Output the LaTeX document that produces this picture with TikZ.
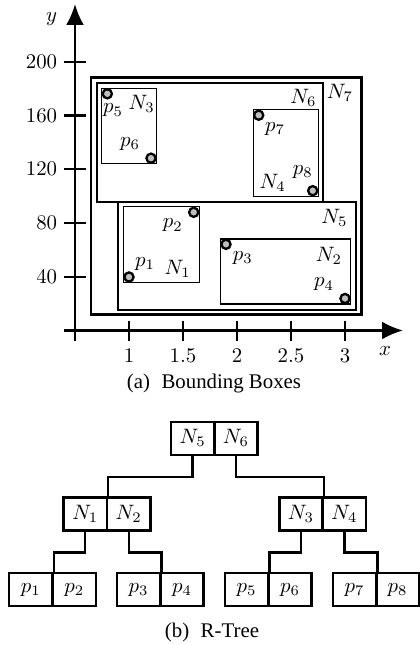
\documentclass[tikz,border=0pt]{standalone}
\usepackage[no-math]{fontspec}
\newfontfamily\capfont{Liberation Serif}
\usetikzlibrary{arrows.meta}
\begin{document}
\begin{tikzpicture}[x=0.48pt,y=-0.48pt,
  axisline/.style={line width=1.1pt,-{Latex[length=10pt,width=8.5pt]}},
  tickline/.style={line width=1.1pt},
  ptdot/.style={circle,draw,fill=black!25,line width=1.1pt,minimum size=4.4pt,inner sep=0pt},
  lbl/.style={inner sep=0pt,font=\fontsize{10}{12}\selectfont},
  ticklbl/.style={inner sep=0pt,font=\fontsize{10}{12}\selectfont},
  capt/.style={inner sep=0pt,font=\fontsize{10}{12}\selectfont\capfont},
  outerbox/.style={draw,line width=1.3pt},
  midbox/.style={draw,line width=1pt},
  leafbox/.style={draw,line width=0.65pt},
  cell/.style={draw,line width=1.2pt,minimum width=20.8pt,minimum height=15.8pt,inner sep=0pt,font=\fontsize{10}{12}\selectfont},
  conn/.style={line width=1.1pt}
]
\useasboundingbox (0,0) rectangle (419,645);

% ---------- axes ----------
\coordinate (ybot) at (75,340.5);
\coordinate (ytop) at (75,4);
\coordinate (xleft) at (64,330.5);
\coordinate (xright) at (403,330.5);
\draw[axisline] (ybot) -- (ytop);
\draw[axisline] (xleft) -- (xright);
\node[lbl] (ylab) at (51.7,19.5) {$y$};
\node[lbl] (xlab) at (385,351.5) {$x$};

% y ticks
\foreach \v/\yy in {200/61.7,160/115.45,120/169.2,80/222.95,40/276.7}{
  \draw[tickline] (64,\yy) -- (86,\yy);
  \node[ticklbl,anchor=east] (yt\v) at (57.5,\yy) {$\v$};
}
% x ticks
\foreach \xx/\t/\n in {129/1/a,183/1.5/b,237/2/c,291/2.5/d,345/3/e}{
  \draw[tickline] (\xx,320.5) -- (\xx,340.5);
  \node[ticklbl] (xt\n) at (\xx,356) {$\t$};
}

% ---------- bounding boxes ----------
\draw[outerbox] (91,77.3) rectangle (361.7,314.7);
\draw[midbox] (96.7,82.7) rectangle (323.3,201.7);
\draw[midbox] (117.7,201.7) rectangle (356,310);
\draw[leafbox] (101.7,88.3) rectangle (156.7,163.7);
\draw[leafbox] (253.3,109.3) rectangle (318.3,196.7);
\draw[leafbox] (123.3,206.7) rectangle (199.3,282.7);
\draw[leafbox] (220.7,239) rectangle (350.7,304);

% points
\node[ptdot] (P1) at (129,277) {};
\node[ptdot] (P2) at (193.7,212.3) {};
\node[ptdot] (P3) at (226,244.3) {};
\node[ptdot] (P4) at (345,298.5) {};
\node[ptdot] (P5) at (107.3,93.8) {};
\node[ptdot] (P6) at (151,158.2) {};
\node[ptdot] (P7) at (258.7,115.2) {};
\node[ptdot] (P8) at (312.7,190.7) {};

% labels
\node[lbl] (L1) at (145,264) {$p_1$};
\node[lbl] (L2) at (172.7,225.5) {$p_2$};
\node[lbl] (L3) at (242.7,258) {$p_3$};
\node[lbl] (L4) at (324,284.5) {$p_4$};
\node[lbl] (L5) at (113,110.5) {$p_5$};
\node[lbl] (L6) at (130,144) {$p_6$};
\node[lbl] (L7) at (275,129) {$p_7$};
\node[lbl] (L8) at (302.7,172.3) {$p_8$};
\node[lbl] (LN1) at (177.7,269.3) {$N_1$};
\node[lbl] (LN2) at (329,255.7) {$N_2$};
\node[lbl] (LN3) at (141.7,104) {$N_3$};
\node[lbl] (LN4) at (272.7,182.7) {$N_4$};
\node[lbl] (LN5) at (334.3,218.3) {$N_5$};
\node[lbl] (LN6) at (303.3,98.3) {$N_6$};
\node[lbl] (LN7) at (340,92.7) {$N_7$};

\node[capt] (capa) at (214,384) {(a)\hspace{5.5pt}Bounding Boxes};

% ---------- R-tree ----------
\node[cell] (n5) at (192.6,438.3) {$N_5$};
\node[cell] (n6) at (236,438.3) {$N_6$};
\node[cell] (n1) at (85.3,513.8) {$N_1$};
\node[cell] (n2) at (128.7,513.8) {$N_2$};
\node[cell] (n3) at (301,513.8) {$N_3$};
\node[cell] (n4) at (344.4,513.8) {$N_4$};
\node[cell] (t1) at (30.8,589.6) {$p_1$};
\node[cell] (t2) at (74.2,589.6) {$p_2$};
\node[cell] (t3) at (138.6,589.6) {$p_3$};
\node[cell] (t4) at (182,589.6) {$p_4$};
\node[cell] (t5) at (246.6,589.6) {$p_5$};
\node[cell] (t6) at (290,589.6) {$p_6$};
\node[cell] (t7) at (354.6,589.6) {$p_7$};
\node[cell] (t8) at (397.6,589.6) {$p_8$};

\draw[conn] (n5.south) -- ++(0,20.7) -| (n1.north east);
\draw[conn] (n6.south) -- ++(0,20.7) -| (n3.north east);
\draw[conn] (n1.south) -- ++(0,21) -| (t1.north east);
\draw[conn] (n2.south) -- ++(0,21) -| (t3.north east);
\draw[conn] (n3.south) -- ++(0,21) -| (t5.north east);
\draw[conn] (n4.south) -- ++(0,21) -| (t7.north east);

\node[capt] (capb) at (212,632) {(b)\hspace{5.5pt}R-Tree};
\end{tikzpicture}
\end{document}
